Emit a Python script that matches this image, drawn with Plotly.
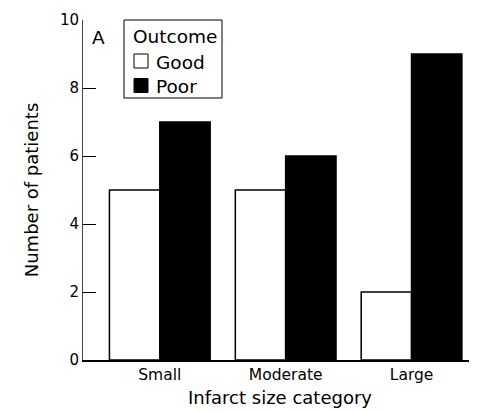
import plotly.graph_objects as go

categories = ["Small", "Moderate", "Large"]
good = [5, 5, 2]
poor = [7, 6, 9]
y_ticks = [0, 2, 4, 6, 8, 10]
legend_title = "Outcome"
series_names = ["Good", "Poor"]
series_colors = ["white", "black"]

font = "DejaVu Sans, sans-serif"

fig = go.Figure()
for name, vals, col in zip(series_names, [good, poor], series_colors):
    fig.add_trace(go.Bar(x=categories, y=vals, name=name, showlegend=False,
                         marker=dict(color=col, line=dict(color="black", width=1.5))))

# page body has an 8px default margin, so the figure is made 8px smaller
OFF = 8
W, H = 477 - OFF, 411 - OFF
PL, PR, PT, PB = 83, 477, 20, 360  # plot area in page pixels
L, T = PL - OFF, PT - OFF
R, B = W - (PR - OFF), H - (PB - OFF)

def px(x):
    return (x - PL) / (PR - PL)

def py(y):
    return (PB - y) / (PB - PT)

shapes = []
annotations = []
shapes.append(dict(type="rect", xref="paper", yref="paper",
                   x0=px(124), x1=px(222), y0=py(98), y1=py(20),
                   line=dict(color="black", width=1), fillcolor="white", layer="above"))
annotations.append(dict(text=legend_title, xref="paper", yref="paper", x=px(131), y=py(36),
                        xanchor="left", yanchor="middle", showarrow=False,
                        font=dict(family=font, size=18.5, color="black")))
for i, (name, col) in enumerate(zip(series_names, series_colors)):
    cy = 61 + i * 24.5
    shapes.append(dict(type="rect", xref="paper", yref="paper",
                       x0=px(134), x1=px(148), y0=py(cy + 7), y1=py(cy - 7),
                       line=dict(color="black", width=1), fillcolor=col, layer="above"))
    annotations.append(dict(text=name, xref="paper", yref="paper", x=px(154), y=py(cy + 1),
                            xanchor="left", yanchor="middle", showarrow=False,
                            font=dict(family=font, size=18.5, color="black")))
annotations.append(dict(text="A", xref="paper", yref="paper", x=px(98), y=py(37),
                        xanchor="center", yanchor="middle", showarrow=False,
                        font=dict(family=font, size=18.5, color="black")))

fig.update_layout(
    width=W, height=H,
    margin=dict(l=L, r=R, t=T, b=B, pad=0),
    paper_bgcolor="white", plot_bgcolor="white",
    barmode="group", bargap=0.2, bargroupgap=0,
    font=dict(family=font, size=16, color="black"),
    showlegend=False,
    xaxis=dict(range=[-0.61, 2.52], showline=True, linecolor="black", linewidth=1.5,
               ticks="", tickfont=dict(size=15.5), showgrid=False, automargin=False,
               title=dict(text="Infarct size category", font=dict(size=18), standoff=8)),
    yaxis=dict(range=[0, 10], tickvals=y_ticks, showline=True, linecolor="#444",
               linewidth=1, ticks="inside", ticklen=13, tickcolor="black", tickwidth=1,
               tickfont=dict(size=15), showgrid=False, zeroline=False, automargin=False,
               title=dict(text="Number of patients", font=dict(size=18), standoff=16)),
    shapes=shapes,
    annotations=annotations,
)

fig.write_html("out.html")
